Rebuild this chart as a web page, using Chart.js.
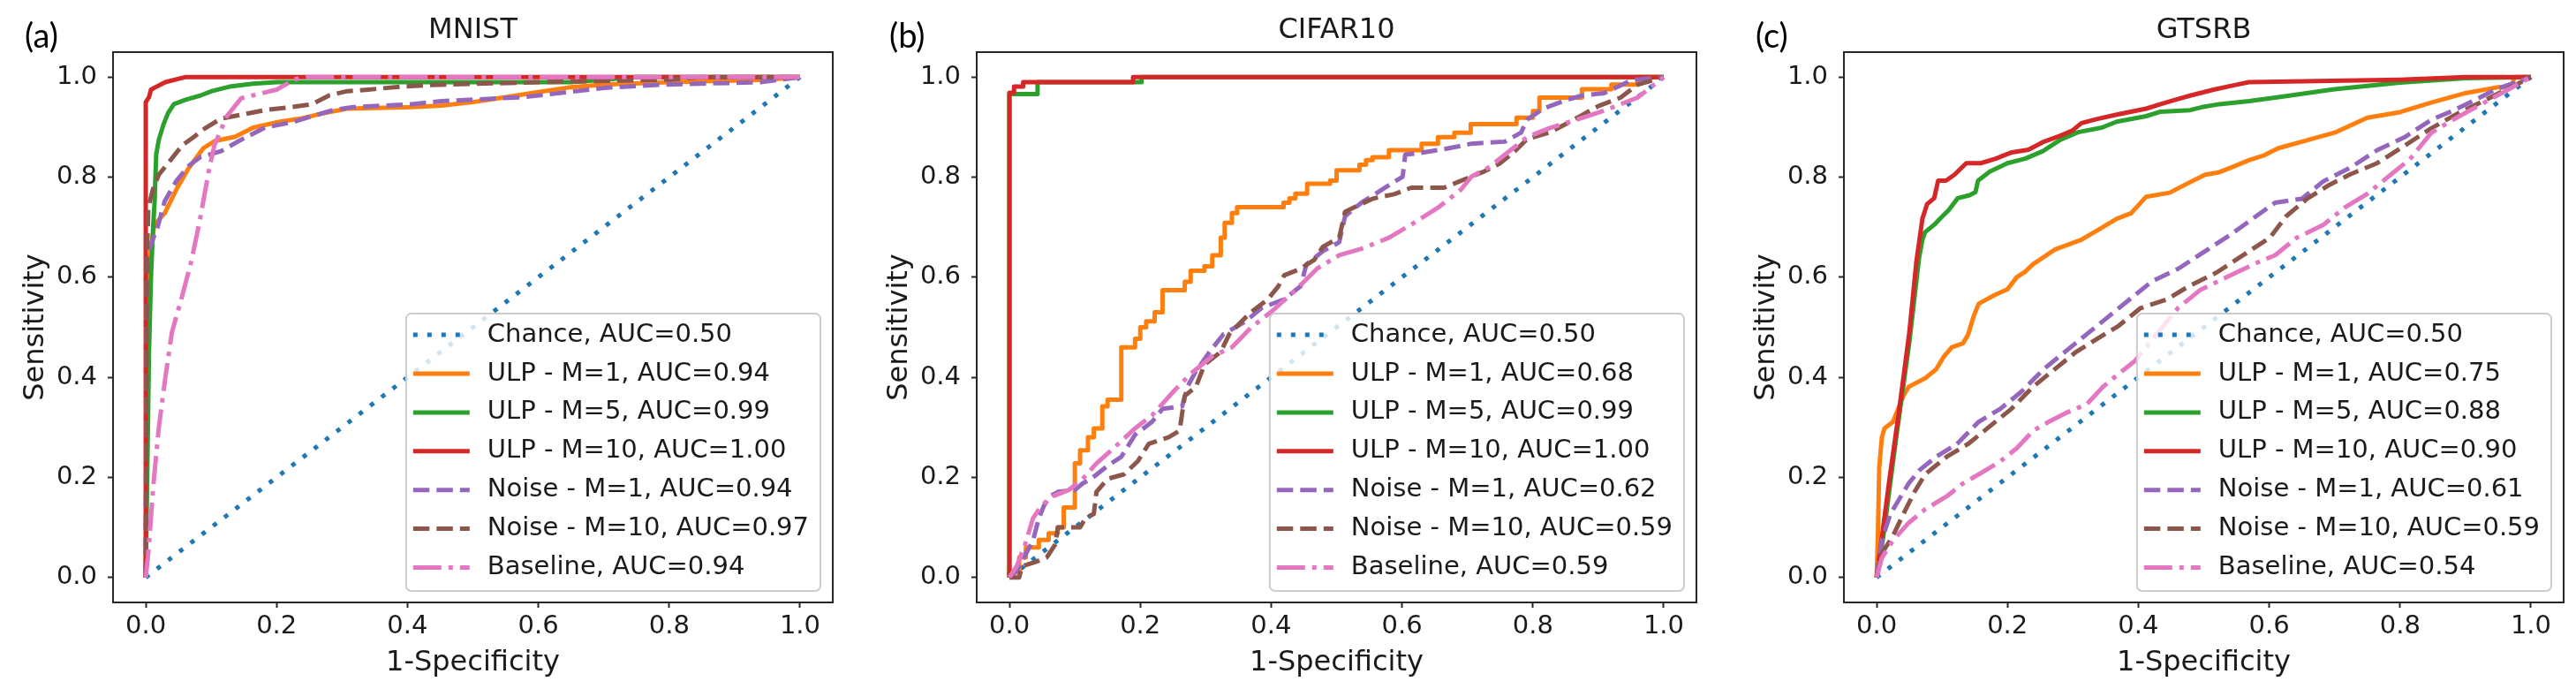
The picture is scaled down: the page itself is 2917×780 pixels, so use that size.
<!DOCTYPE html>
<html>
<head>
<meta charset="utf-8">
<script src="https://cdn.jsdelivr.net/npm/chart.js@4.4.1/dist/chart.umd.min.js"></script>
<style>
  html, body { margin: 0; padding: 0; background: #fff; }
  body { width: 2917px; height: 780px; position: relative; overflow: hidden; }
  canvas { position: absolute; top: 0; }
  .tag { position: absolute; top: 20px; font-family: Lato, "Open Sans", sans-serif; font-size: 38px; line-height: 38px; color: #000; }
</style>
</head>
<body>
<canvas id="mnist" width="980" height="780" style="left:0;width:980px;height:780px"></canvas>
<canvas id="cifar" width="980" height="780" style="left:978px;width:980px;height:780px"></canvas>
<canvas id="gtsrb" width="957" height="780" style="left:1960px;width:957px;height:780px"></canvas>
<div class="tag" style="left:28px">(a)</div>
<div class="tag" style="left:1007px">(b)</div>
<div class="tag" style="left:1988px">(c)</div>
<script>
// axis ticks
const X_TICKS = [0, 0.2, 0.4, 0.6, 0.8, 1.0];
const Y_TICKS = [0, 0.2, 0.4, 0.6, 0.8, 1.0];

const SERIES_NAMES = ['Chance', 'ULP - M=1', 'ULP - M=5', 'ULP - M=10', 'Noise - M=1', 'Noise - M=10', 'Baseline'];
const MNIST_AUC = ['0.50', '0.94', '0.99', '1.00', '0.94', '0.97', '0.94'];
const CIFAR_AUC = ['0.50', '0.68', '0.99', '1.00', '0.62', '0.59', '0.59'];
const GTSRB_AUC = ['0.50', '0.75', '0.88', '0.90', '0.61', '0.59', '0.54'];

// ROC points [1-specificity, sensitivity]
const CHANCE = [[0, 0], [1, 1]];

const MNIST_ULP1 = [[0,0],[0.002,0.45],[0.004,0.62],[0.013,0.705],[0.029,0.728],[0.047,0.776],[0.065,0.817],[0.088,0.858],[0.105,0.872],[0.137,0.881],[0.164,0.899],[0.205,0.911],[0.236,0.917],[0.272,0.928],[0.308,0.937],[0.407,0.94],[0.452,0.943],[0.5,0.95],[0.55,0.96],[0.6,0.97],[0.65,0.98],[0.7,0.985],[0.8,0.99],[0.95,0.995],[1,1]];
const MNIST_ULP5 = [[0,0],[0.005,0.45],[0.008,0.6],[0.011,0.693],[0.0135,0.752],[0.016,0.846],[0.02,0.875],[0.027,0.905],[0.034,0.928],[0.043,0.946],[0.061,0.955],[0.083,0.963],[0.101,0.972],[0.128,0.981],[0.164,0.987],[0.2,0.99],[0.65,0.99],[0.7,0.995],[0.75,1],[1,1]];
const MNIST_ULP10 = [[0,0],[0,0.95],[0.005,0.96],[0.008,0.975],[0.015,0.98],[0.03,0.99],[0.045,0.995],[0.06,1],[1,1]];
const MNIST_NOISE1 = [[0,0],[0.001,0.5],[0.002,0.646],[0.018,0.7],[0.029,0.752],[0.047,0.793],[0.065,0.822],[0.083,0.84],[0.115,0.852],[0.146,0.875],[0.182,0.899],[0.227,0.911],[0.254,0.922],[0.286,0.934],[0.317,0.94],[0.407,0.946],[0.452,0.952],[0.578,0.96],[0.705,0.979],[0.79,0.985],[0.94,0.99],[1,1]];
const MNIST_NOISE10 = [[0,0],[0.002,0.65],[0.004,0.74],[0.011,0.776],[0.02,0.805],[0.036,0.831],[0.056,0.864],[0.074,0.881],[0.092,0.899],[0.115,0.917],[0.146,0.925],[0.182,0.934],[0.227,0.941],[0.254,0.946],[0.281,0.964],[0.308,0.972],[0.34,0.975],[0.389,0.981],[0.43,0.984],[0.6,0.99],[0.8,0.995],[0.85,1],[1,1]];
const MNIST_BASE = [[0,0],[0.004,0.05],[0.012,0.19],[0.02,0.3],[0.03,0.4],[0.04,0.49],[0.056,0.564],[0.07,0.634],[0.083,0.716],[0.097,0.817],[0.105,0.864],[0.124,0.922],[0.146,0.958],[0.2,0.975],[0.227,0.995],[0.24,1],[1,1]];

// CIFAR10: the ULP curves are staircases, stored as step corners
const CIFAR_ULP1 = [[0,0],[0.015,0.01],[0.025,0.04],[0.045,0.06],[0.06,0.075],[0.074,0.088],[0.083,0.1],[0.1,0.14],[0.108,0.228],[0.12,0.254],[0.129,0.28],[0.142,0.298],[0.15,0.342],[0.171,0.355],[0.192,0.46],[0.2,0.477],[0.209,0.5],[0.222,0.512],[0.234,0.53],[0.268,0.574],[0.277,0.591],[0.298,0.613],[0.31,0.622],[0.323,0.644],[0.329,0.679],[0.34,0.709],[0.348,0.728],[0.419,0.74],[0.428,0.749],[0.437,0.758],[0.455,0.767],[0.49,0.787],[0.5,0.793],[0.535,0.814],[0.545,0.825],[0.555,0.834],[0.58,0.84],[0.63,0.854],[0.655,0.867],[0.68,0.88],[0.705,0.889],[0.775,0.906],[0.8,0.919],[0.81,0.932],[0.875,0.959],[0.92,0.976],[0.96,0.985],[0.985,1],[1,1]];
const CIFAR_ULP5 = [[0,0],[0,0.958],[0.043,0.966],[0.202,0.99],[0.396,1],[1,1]];
const CIFAR_ULP10 = [[0,0],[0,0.952],[0.007,0.969],[0.021,0.981],[0.189,0.99],[0.229,1],[1,1]];
const CIFAR_NOISE1 = [[0,0],[0.011,0.013],[0.024,0.044],[0.036,0.074],[0.045,0.118],[0.053,0.144],[0.062,0.162],[0.074,0.171],[0.1,0.175],[0.112,0.188],[0.125,0.197],[0.15,0.223],[0.171,0.241],[0.192,0.285],[0.218,0.311],[0.234,0.337],[0.264,0.342],[0.272,0.381],[0.285,0.412],[0.306,0.451],[0.327,0.486],[0.361,0.512],[0.386,0.539],[0.42,0.556],[0.445,0.582],[0.454,0.626],[0.479,0.652],[0.504,0.67],[0.513,0.722],[0.538,0.749],[0.58,0.784],[0.601,0.801],[0.605,0.845],[0.631,0.849],[0.672,0.858],[0.706,0.867],[0.757,0.871],[0.782,0.889],[0.791,0.915],[0.816,0.937],[0.85,0.954],[0.875,0.963],[0.909,0.968],[0.951,0.994],[1,1]];
const CIFAR_NOISE10 = [[0,0],[0.015,0],[0.019,0.022],[0.04,0.031],[0.057,0.04],[0.07,0.066],[0.074,0.1],[0.108,0.1],[0.116,0.118],[0.129,0.127],[0.133,0.171],[0.15,0.197],[0.175,0.206],[0.196,0.232],[0.213,0.267],[0.243,0.28],[0.26,0.293],[0.268,0.363],[0.285,0.381],[0.298,0.425],[0.323,0.451],[0.336,0.486],[0.352,0.508],[0.369,0.53],[0.395,0.556],[0.411,0.582],[0.42,0.604],[0.445,0.617],[0.466,0.635],[0.479,0.661],[0.504,0.679],[0.513,0.731],[0.534,0.744],[0.555,0.757],[0.588,0.766],[0.614,0.779],[0.664,0.779],[0.698,0.797],[0.723,0.81],[0.749,0.827],[0.77,0.849],[0.791,0.876],[0.825,0.889],[0.85,0.906],[0.875,0.924],[0.9,0.942],[0.934,0.959],[0.96,0.985],[1,1]];
const CIFAR_BASE = [[0,0],[0.011,0.022],[0.024,0.066],[0.036,0.118],[0.049,0.144],[0.066,0.162],[0.091,0.175],[0.112,0.197],[0.133,0.228],[0.159,0.258],[0.192,0.298],[0.218,0.324],[0.251,0.372],[0.277,0.407],[0.31,0.442],[0.34,0.46],[0.369,0.499],[0.403,0.534],[0.437,0.574],[0.47,0.617],[0.504,0.644],[0.538,0.657],[0.58,0.679],[0.614,0.705],[0.656,0.74],[0.69,0.775],[0.706,0.801],[0.732,0.819],[0.766,0.854],[0.791,0.88],[0.825,0.898],[0.867,0.915],[0.909,0.933],[0.96,0.959],[1,1]];

const GTSRB_ULP1 = [[0,0],[0.002,0.09],[0.004,0.22],[0.008,0.28],[0.012,0.298],[0.025,0.311],[0.041,0.363],[0.049,0.381],[0.074,0.398],[0.091,0.416],[0.103,0.442],[0.115,0.46],[0.132,0.468],[0.14,0.486],[0.148,0.521],[0.156,0.547],[0.181,0.565],[0.2,0.576],[0.214,0.6],[0.227,0.611],[0.239,0.626],[0.272,0.655],[0.313,0.675],[0.344,0.699],[0.367,0.717],[0.389,0.728],[0.412,0.761],[0.448,0.769],[0.47,0.784],[0.502,0.805],[0.524,0.81],[0.547,0.822],[0.569,0.834],[0.591,0.843],[0.614,0.858],[0.65,0.871],[0.7,0.889],[0.75,0.919],[0.8,0.93],[0.85,0.95],[0.9,0.968],[0.95,0.98],[0.97,0.98],[0.975,1],[1,1]];
const GTSRB_ULP5 = [[0,0],[0.01,0.08],[0.03,0.28],[0.05,0.47],[0.065,0.64],[0.07,0.675],[0.074,0.69],[0.088,0.705],[0.097,0.717],[0.11,0.734],[0.124,0.758],[0.142,0.764],[0.151,0.77],[0.155,0.793],[0.173,0.811],[0.2,0.828],[0.227,0.837],[0.254,0.852],[0.281,0.875],[0.308,0.89],[0.344,0.899],[0.367,0.911],[0.412,0.922],[0.434,0.931],[0.479,0.934],[0.497,0.94],[0.524,0.946],[0.569,0.952],[0.614,0.96],[0.7,0.976],[0.8,0.989],[0.9,0.998],[1,1]];
const GTSRB_ULP10 = [[0,0],[0.005,0.05],[0.02,0.2],[0.035,0.34],[0.05,0.49],[0.061,0.634],[0.07,0.717],[0.077,0.746],[0.088,0.758],[0.094,0.793],[0.106,0.793],[0.119,0.805],[0.137,0.828],[0.159,0.828],[0.182,0.837],[0.205,0.849],[0.232,0.855],[0.254,0.87],[0.277,0.881],[0.299,0.893],[0.313,0.908],[0.336,0.916],[0.367,0.925],[0.412,0.937],[0.434,0.946],[0.457,0.955],[0.479,0.963],[0.515,0.975],[0.547,0.984],[0.569,0.99],[0.8,0.995],[0.9,1],[1,1]];
const GTSRB_NOISE1 = [[0,0],[0.008,0.074],[0.021,0.127],[0.033,0.153],[0.049,0.188],[0.066,0.215],[0.091,0.241],[0.123,0.267],[0.156,0.311],[0.189,0.337],[0.222,0.372],[0.255,0.416],[0.288,0.451],[0.321,0.486],[0.354,0.521],[0.387,0.556],[0.42,0.591],[0.461,0.617],[0.502,0.652],[0.543,0.687],[0.58,0.722],[0.609,0.749],[0.65,0.757],[0.683,0.792],[0.724,0.819],[0.765,0.854],[0.807,0.88],[0.848,0.915],[0.881,0.933],[0.914,0.954],[0.947,0.976],[1,1]];
const GTSRB_NOISE10 = [[0,0],[0.008,0.048],[0.025,0.083],[0.041,0.127],[0.058,0.171],[0.074,0.206],[0.107,0.241],[0.14,0.267],[0.173,0.302],[0.206,0.337],[0.239,0.381],[0.272,0.416],[0.305,0.451],[0.337,0.477],[0.37,0.503],[0.403,0.538],[0.444,0.556],[0.477,0.582],[0.519,0.609],[0.56,0.644],[0.601,0.679],[0.626,0.722],[0.658,0.757],[0.691,0.784],[0.724,0.806],[0.765,0.828],[0.807,0.863],[0.848,0.898],[0.889,0.928],[0.93,0.954],[1,1]];
const GTSRB_BASE = [[0,0],[0.008,0.039],[0.025,0.074],[0.049,0.109],[0.074,0.136],[0.107,0.162],[0.132,0.188],[0.156,0.206],[0.189,0.232],[0.214,0.258],[0.239,0.293],[0.263,0.311],[0.288,0.328],[0.321,0.346],[0.346,0.381],[0.37,0.407],[0.395,0.433],[0.428,0.486],[0.461,0.539],[0.494,0.574],[0.535,0.6],[0.576,0.626],[0.609,0.644],[0.642,0.679],[0.683,0.705],[0.716,0.74],[0.749,0.766],[0.782,0.801],[0.815,0.836],[0.848,0.889],[0.881,0.915],[0.93,0.95],[1,1]];

// matplotlib tab10 colours + line styles (lw 5)
const COLORS = ['#1f77b4', '#ff7f0e', '#2ca02c', '#d62728', '#9467bd', '#8c564b', '#e377c2'];
const DASHES = [[5, 11], [], [], [], [18.5, 8], [18.5, 8], [32, 8, 5, 8]];

const FONT = 'DejaVu Sans';
const TEXT_COLOR = '#1a1a1a';
Chart.defaults.font.family = FONT;

// axes frame + matplotlib-style legend in the lower right corner
const frameAndLegend = {
    id: 'frameAndLegend',
    afterDatasetsDraw(chart) {
        const { ctx, chartArea: a } = chart;
        ctx.save();
        ctx.strokeStyle = '#262626';
        ctx.lineWidth = 2;
        ctx.setLineDash([]);
        ctx.strokeRect(a.left, a.top, a.width, a.height);

        const sets = chart.data.datasets;
        ctx.font = `29px "${FONT}"`;
        const textW = Math.max(...sets.map(d => ctx.measureText(d.label).width));
        const rowH = 43.9;
        const w = 8 + 64 + 20 + textW + 13;
        const h = 24 + rowH * (sets.length - 1) + 26.5;
        const x0 = a.right - 14 - w;
        const y0 = a.bottom - 13 - h;

        ctx.beginPath();
        ctx.roundRect(x0, y0, w, h, 6);
        ctx.fillStyle = 'rgba(255,255,255,0.8)';
        ctx.fill();
        ctx.strokeStyle = '#cccccc';
        ctx.lineWidth = 2;
        ctx.stroke();

        sets.forEach((d, i) => {
            const cy = y0 + 24 + i * rowH;
            ctx.beginPath();
            ctx.setLineDash(d.borderDash);
            ctx.lineWidth = d.borderWidth;
            ctx.strokeStyle = d.borderColor;
            ctx.lineCap = 'butt';
            ctx.moveTo(x0 + 8, cy);
            ctx.lineTo(x0 + 72, cy);
            ctx.stroke();
            ctx.setLineDash([]);
            ctx.fillStyle = TEXT_COLOR;
            ctx.textBaseline = 'middle';
            ctx.textAlign = 'left';
            ctx.fillText(d.label, x0 + 92, cy);
        });
        ctx.restore();
    }
};

function buildRoc(canvasId, title, aucs, curves, stepped, padRight) {
    const datasets = curves.map((pts, i) => ({
        label: `${SERIES_NAMES[i]}, AUC=${aucs[i]}`,
        data: pts.map(([x, y]) => ({ x, y })),
        borderColor: COLORS[i],
        backgroundColor: COLORS[i],
        borderWidth: 5,
        borderDash: DASHES[i],
        borderJoinStyle: 'round',
        pointRadius: 0,
        tension: 0,
        fill: false,
        stepped: stepped[i] ? 'after' : false,
        order: curves.length - i // later series on top, like matplotlib
    }));

    return new Chart(document.getElementById(canvasId), {
        type: 'line',
        data: { datasets },
        plugins: [frameAndLegend],
        options: {
            responsive: false,
            animation: false,
            events: [],
            layout: { padding: { left: 0, right: padRight, top: 0, bottom: 0 } },
            scales: {
                x: {
                    type: 'linear',
                    min: -0.05,
                    max: 1.05,
                    afterBuildTicks: s => { s.ticks = X_TICKS.map(v => ({ value: v })); },
                    afterFit: s => { s.height = 98; },
                    ticks: {
                        callback: v => v.toFixed(1),
                        font: { size: 29 },
                        color: TEXT_COLOR,
                        padding: 4,
                        maxRotation: 0,
                        autoSkip: false
                    },
                    grid: { drawOnChartArea: false, drawTicks: true, tickLength: 6, tickWidth: 2, tickColor: '#262626' },
                    border: { display: false },
                    title: { display: true, text: '1-Specificity', color: TEXT_COLOR, font: { size: 32 }, padding: { top: 0, bottom: 10 } }
                },
                y: {
                    type: 'linear',
                    min: -0.05,
                    max: 1.05,
                    afterBuildTicks: s => { s.ticks = Y_TICKS.map(v => ({ value: v })); },
                    afterFit: s => { s.width = 128; },
                    ticks: {
                        callback: v => v.toFixed(1),
                        font: { size: 29 },
                        color: TEXT_COLOR,
                        padding: 12,
                        autoSkip: false
                    },
                    grid: { drawOnChartArea: false, drawTicks: true, tickLength: 6, tickWidth: 2, tickColor: '#262626' },
                    border: { display: false },
                    title: { display: true, text: 'Sensitivity', color: TEXT_COLOR, font: { size: 32 }, padding: { top: 21, bottom: 0 } }
                }
            },
            plugins: {
                legend: { display: false },
                tooltip: { enabled: false },
                title: {
                    display: true,
                    text: title,
                    fullSize: false,
                    color: TEXT_COLOR,
                    font: { size: 32, weight: 'normal' },
                    padding: { top: 15, bottom: 5.6 }
                }
            }
        }
    });
}

buildRoc('mnist', 'MNIST', MNIST_AUC,
    [CHANCE, MNIST_ULP1, MNIST_ULP5, MNIST_ULP10, MNIST_NOISE1, MNIST_NOISE10, MNIST_BASE],
    [false, false, false, false, false, false, false], 37);
buildRoc('cifar', 'CIFAR10', CIFAR_AUC,
    [CHANCE, CIFAR_ULP1, CIFAR_ULP5, CIFAR_ULP10, CIFAR_NOISE1, CIFAR_NOISE10, CIFAR_BASE],
    [false, true, true, true, false, false, false], 37);
buildRoc('gtsrb', 'GTSRB', GTSRB_AUC,
    [CHANCE, GTSRB_ULP1, GTSRB_ULP5, GTSRB_ULP10, GTSRB_NOISE1, GTSRB_NOISE10, GTSRB_BASE],
    [false, false, false, false, false, false, false], 14);
</script>
</body>
</html>
